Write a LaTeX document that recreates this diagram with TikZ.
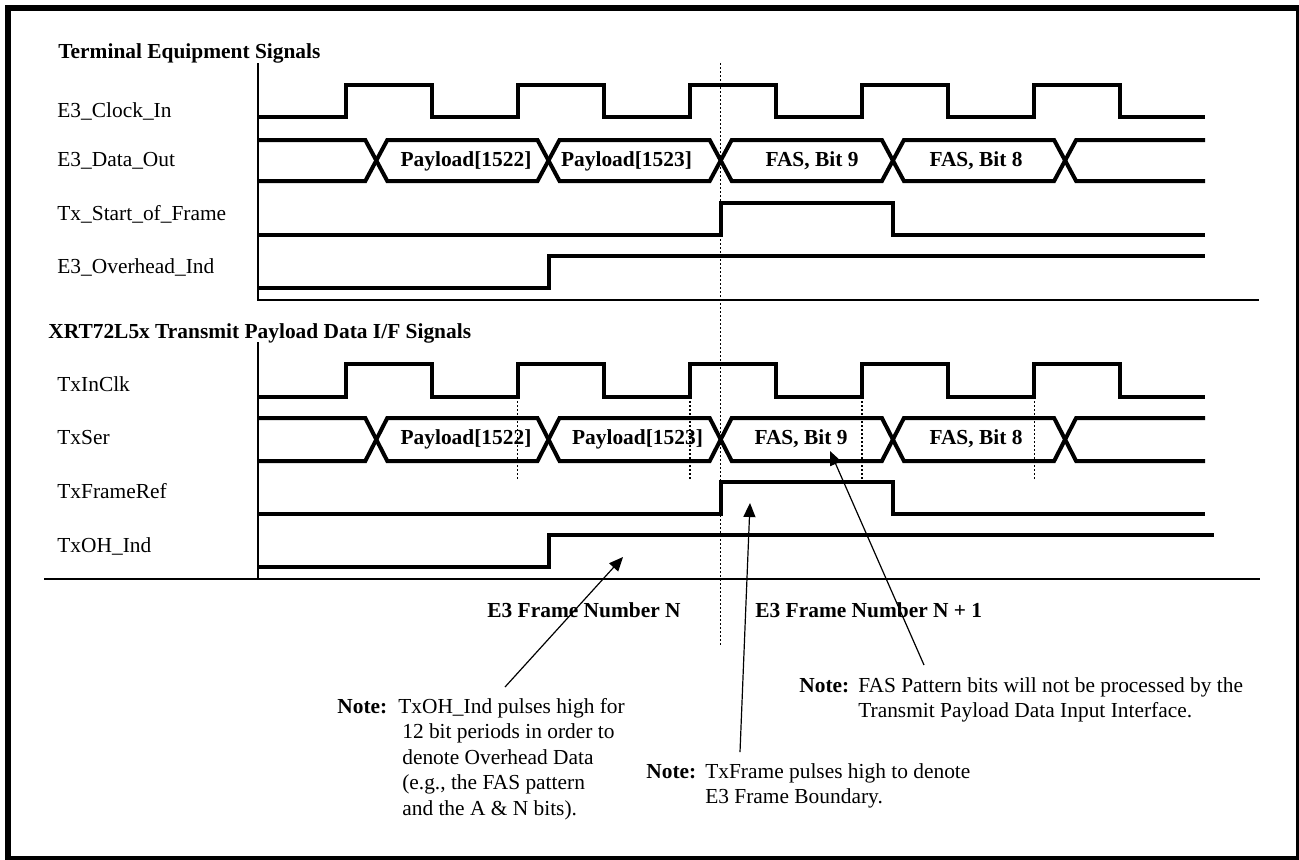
\documentclass[tikz,border=0pt]{standalone}
\usepackage{fontspec}
\setmainfont{Liberation Serif}
\usetikzlibrary{arrows.meta}
\newcommand{\diagfont}{\fontsize{10.7pt}{12.75pt}\selectfont}

\begin{document}
\begin{tikzpicture}[x=0.5pt, y=-0.5pt, font=\diagfont]
  % Define styles
  \tikzstyle{wave} = [line width=2pt, line join=miter]
  \tikzstyle{thinline} = [line width=0.6pt]
  \tikzstyle{guide} = [line width=0.7pt, dash pattern=on 1pt off 1pt]
  \tikzstyle{siglabel} = [anchor=base west, inner sep=0pt]
  \tikzstyle{heading} = [anchor=base west, inner sep=0pt, font=\diagfont\bfseries]
  \tikzstyle{buslabel} = [anchor=base, inner sep=0pt, font=\diagfont\bfseries]
  \tikzstyle{note} = [anchor=base west, inner sep=0pt]
  \tikzstyle{pointer} = [line width=0.6pt, -{Triangle[length=7pt, width=6pt]}]

  \useasboundingbox (0,0) rectangle (1299,859);

  % Outer frame
  \draw[line width=3pt] (7.7,7.7) rectangle (1299,859);

  % Section headings
  \node[heading] (hdr_te) at (58,58) {Terminal Equipment Signals};
  \node[heading] (hdr_xrt) at (48,338) {XRT72L5x Transmit Payload Data I/F Signals};

  % Signal names
  \node[siglabel] (lbl_clk) at (57,117) {E3\_Clock\_In};
  \node[siglabel] (lbl_data) at (57,166) {E3\_Data\_Out};
  \node[siglabel] (lbl_sof) at (57,220) {Tx\_Start\_of\_Frame};
  \node[siglabel] (lbl_oh) at (57,273) {E3\_Overhead\_Ind};
  \node[siglabel] (lbl_txclk) at (57,391) {TxInClk};
  \node[siglabel] (lbl_txser) at (57,444) {TxSer};
  \node[siglabel] (lbl_txfr) at (57,498) {TxFrameRef};
  \node[siglabel] (lbl_txoh) at (57,552) {TxOH\_Ind};

  % Axes and separators
  \draw[thinline] (258,63) -- (258,300) -- (1259,300);
  \draw[thinline] (258,342) -- (258,579);
  \draw[thinline] (44,579) -- (1260,579);

  % Clocks
  \foreach \lo/\hi in {117/85, 397/364} {
    \draw[wave] (258,\lo) \foreach \r in {345.5,517.7,689.9,862.1,1034.3} {
      -- (\r,\lo) -- (\r,\hi) -- (\r+86.1,\hi) -- (\r+86.1,\lo) } -- (1205,\lo);
  }

  % Data buses
  \foreach \tp/\bt in {140/181, 418/461} {
    \draw[wave] (258,\tp) -- (365.3,\tp) -- (387.3,\bt) -- (537.5,\bt) -- (559.5,\tp) -- (709.7,\tp)
      -- (731.7,\bt) -- (881.9,\bt) -- (903.9,\tp) -- (1054.1,\tp) -- (1076.1,\bt) -- (1205,\bt);
    \draw[wave] (258,\bt) -- (365.3,\bt) -- (387.3,\tp) -- (537.5,\tp) -- (559.5,\bt) -- (709.7,\bt)
      -- (731.7,\tp) -- (881.9,\tp) -- (903.9,\bt) -- (1054.1,\bt) -- (1076.1,\tp) -- (1205,\tp);
  }

  % Frame strobes
  \foreach \lo/\hi in {235/203, 514/482}
    \draw[wave] (258,\lo) -- (720.7,\lo) -- (720.7,\hi) -- (892.9,\hi) -- (892.9,\lo) -- (1205,\lo);

  % Overhead indicators
  \draw[wave] (258,288) -- (548.5,288) -- (548.5,256) -- (1205,256);
  \draw[wave] (258,567) -- (548.5,567) -- (548.5,535) -- (1214,535);

  % Bus contents
  \node[buslabel] (pl22_te) at (466,166) {Payload[1522]};
  \node[buslabel] (pl23_te) at (626.5,166) {Payload[1523]};
  \node[buslabel] (fas9_te) at (812,166) {FAS, Bit 9};
  \node[buslabel] (fas8_te) at (976,166) {FAS, Bit 8};
  \node[buslabel] (pl22_tx) at (466,444) {Payload[1522]};
  \node[buslabel] (pl23_tx) at (637.5,444) {Payload[1523]};
  \node[buslabel] (fas9_tx) at (801,444) {FAS, Bit 9};
  \node[buslabel] (fas8_tx) at (976,444) {FAS, Bit 8};

  % Frame boundary and sampling edges
  \draw[guide] (720.7,63) -- (720.7,645);
  \foreach \x in {517.7, 689.9, 862.1, 1034.3}
    \draw[guide] (\x,397) -- (\x,479);

  % Frame numbers
  \node[heading] (frame_n) at (487,617) {E3 Frame Number N};
  \node[heading] (frame_n1) at (755,617) {E3 Frame Number N + 1};

  % Notes
  \node[note] (note_oh) at (337,713) {\begin{tabular}[t]{@{}l@{\hspace{5.5pt}}l@{}}
    \textbf{Note:} & TxOH\_Ind pulses high for\\
    & \hspace{2pt}12 bit periods in order to\\
    & \hspace{2pt}denote Overhead Data\\
    & \hspace{2pt}(e.g., the FAS pattern\\
    & \hspace{2pt}and the A \& N bits).
  \end{tabular}};
  \node[note] (note_frame) at (646,778) {\begin{tabular}[t]{@{}l@{\hspace{4.5pt}}l@{}}
    \textbf{Note:} & TxFrame pulses high to denote\\
    & E3 Frame Boundary.
  \end{tabular}};
  \node[note] (note_fas) at (799,692) {\begin{tabular}[t]{@{}l@{\hspace{4.5pt}}l@{}}
    \textbf{Note:} & FAS Pattern bits will not be processed by the\\
    & Transmit Payload Data Input Interface.
  \end{tabular}};

  % Pointers
  \coordinate (oh_tail) at (505,687);
  \coordinate (oh_tip) at (623,557);
  \coordinate (fr_tail) at (740,752);
  \coordinate (fr_tip) at (750,503);
  \coordinate (fas_tail) at (924,665);
  \coordinate (fas_tip) at (830,451);
  \draw[pointer] (oh_tail) -- (oh_tip);
  \draw[pointer] (fr_tail) -- (fr_tip);
  \draw[pointer] (fas_tail) -- (fas_tip);

\end{tikzpicture}
\end{document}
